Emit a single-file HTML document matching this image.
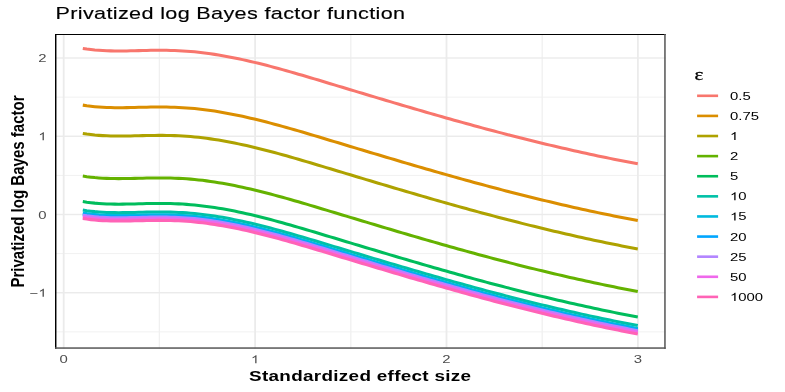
<!DOCTYPE html>
<html><head><meta charset="utf-8"><title>Privatized log Bayes factor function</title>
<style>html,body{margin:0;padding:0;background:#fff;}body{width:785px;height:392px;overflow:hidden;font-family:"Liberation Sans",sans-serif;}</style>
</head><body>
<svg width="785" height="392" viewBox="0 0 785 392" style="display:block">
<rect x="0" y="0" width="785" height="392" fill="#fff"/>
<rect x="55.0" y="96.67" width="610.7" height="0.9" fill="#F0F0F0"/>
<rect x="55.0" y="174.93" width="610.7" height="0.9" fill="#F0F0F0"/>
<rect x="55.0" y="253.18" width="610.7" height="0.9" fill="#F0F0F0"/>
<rect x="55.0" y="331.43" width="610.7" height="0.9" fill="#F0F0F0"/>
<rect x="158.75" y="34.0" width="1.3" height="314.9" fill="#F0F0F0"/>
<rect x="350.15" y="34.0" width="1.3" height="314.9" fill="#F0F0F0"/>
<rect x="541.55" y="34.0" width="1.3" height="314.9" fill="#F0F0F0"/>
<rect x="55.0" y="57.30" width="610.7" height="1.4" fill="#EBEBEB"/>
<rect x="55.0" y="135.55" width="610.7" height="1.4" fill="#EBEBEB"/>
<rect x="55.0" y="213.80" width="610.7" height="1.4" fill="#EBEBEB"/>
<rect x="55.0" y="292.05" width="610.7" height="1.4" fill="#EBEBEB"/>
<rect x="62.80" y="34.0" width="1.8" height="314.9" fill="#EBEBEB"/>
<rect x="254.20" y="34.0" width="1.8" height="314.9" fill="#EBEBEB"/>
<rect x="445.60" y="34.0" width="1.8" height="314.9" fill="#EBEBEB"/>
<rect x="637.00" y="34.0" width="1.8" height="314.9" fill="#EBEBEB"/>
<path d="M82.80,48.39 L86.79,48.99 L90.79,49.50 L94.78,49.93 L98.77,50.27 L102.76,50.54 L106.76,50.73 L110.75,50.87 L114.74,50.94 L118.74,50.97 L122.73,50.95 L126.72,50.90 L130.71,50.82 L134.71,50.72 L138.70,50.62 L142.69,50.51 L146.68,50.42 L150.68,50.35 L154.67,50.30 L158.66,50.28 L162.66,50.29 L166.65,50.34 L170.64,50.42 L174.63,50.54 L178.63,50.71 L182.62,50.92 L186.61,51.18 L190.61,51.48 L194.60,51.84 L198.59,52.25 L202.58,52.71 L206.58,53.22 L210.57,53.77 L214.56,54.37 L218.56,55.00 L222.55,55.68 L226.54,56.40 L230.53,57.15 L234.53,57.94 L238.52,58.77 L242.51,59.62 L246.51,60.51 L250.50,61.42 L254.49,62.37 L258.48,63.33 L262.48,64.33 L266.47,65.35 L270.46,66.38 L274.45,67.45 L278.45,68.52 L282.44,69.62 L286.43,70.74 L290.43,71.87 L294.42,73.01 L298.41,74.17 L302.40,75.33 L306.40,76.51 L310.39,77.69 L314.38,78.88 L318.38,80.08 L322.37,81.28 L326.36,82.49 L330.35,83.69 L334.35,84.90 L338.34,86.10 L342.33,87.30 L346.33,88.51 L350.32,89.71 L354.31,90.91 L358.30,92.11 L362.30,93.31 L366.29,94.51 L370.28,95.71 L374.27,96.90 L378.27,98.10 L382.26,99.29 L386.25,100.48 L390.25,101.66 L394.24,102.85 L398.23,104.03 L402.22,105.21 L406.22,106.38 L410.21,107.55 L414.20,108.72 L418.20,109.88 L422.19,111.04 L426.18,112.20 L430.17,113.35 L434.17,114.50 L438.16,115.64 L442.15,116.78 L446.15,117.91 L450.14,119.04 L454.13,120.16 L458.12,121.27 L462.12,122.39 L466.11,123.49 L470.10,124.59 L474.09,125.68 L478.09,126.77 L482.08,127.85 L486.07,128.92 L490.07,129.99 L494.06,131.05 L498.05,132.10 L502.04,133.14 L506.04,134.18 L510.03,135.21 L514.02,136.24 L518.02,137.25 L522.01,138.26 L526.00,139.26 L529.99,140.26 L533.99,141.24 L537.98,142.22 L541.97,143.19 L545.97,144.15 L549.96,145.11 L553.95,146.05 L557.94,146.99 L561.94,147.92 L565.93,148.84 L569.92,149.75 L573.92,150.65 L577.91,151.55 L581.90,152.43 L585.89,153.31 L589.89,154.18 L593.88,155.04 L597.87,155.89 L601.86,156.73 L605.86,157.56 L609.85,158.38 L613.84,159.19 L617.84,159.99 L621.83,160.78 L625.82,161.57 L629.81,162.34 L633.81,163.10 L637.80,163.85" fill="none" stroke="#F8766D" stroke-width="3.05" stroke-linejoin="round"/>
<path d="M82.80,105.12 L86.79,105.73 L90.79,106.24 L94.78,106.66 L98.77,107.00 L102.76,107.27 L106.76,107.47 L110.75,107.60 L114.74,107.68 L118.74,107.70 L122.73,107.68 L126.72,107.63 L130.71,107.55 L134.71,107.45 L138.70,107.35 L142.69,107.25 L146.68,107.15 L150.68,107.08 L154.67,107.03 L158.66,107.01 L162.66,107.02 L166.65,107.07 L170.64,107.15 L174.63,107.28 L178.63,107.44 L182.62,107.65 L186.61,107.91 L190.61,108.22 L194.60,108.58 L198.59,108.99 L202.58,109.45 L206.58,109.95 L210.57,110.50 L214.56,111.10 L218.56,111.74 L222.55,112.42 L226.54,113.13 L230.53,113.89 L234.53,114.68 L238.52,115.50 L242.51,116.36 L246.51,117.24 L250.50,118.16 L254.49,119.10 L258.48,120.07 L262.48,121.06 L266.47,122.08 L270.46,123.12 L274.45,124.18 L278.45,125.26 L282.44,126.36 L286.43,127.47 L290.43,128.60 L294.42,129.74 L298.41,130.90 L302.40,132.07 L306.40,133.24 L310.39,134.43 L314.38,135.62 L318.38,136.81 L322.37,138.02 L326.36,139.22 L330.35,140.42 L334.35,141.63 L338.34,142.83 L342.33,144.04 L346.33,145.24 L350.32,146.44 L354.31,147.65 L358.30,148.85 L362.30,150.05 L366.29,151.25 L370.28,152.44 L374.27,153.64 L378.27,154.83 L382.26,156.02 L386.25,157.21 L390.25,158.40 L394.24,159.58 L398.23,160.76 L402.22,161.94 L406.22,163.11 L410.21,164.28 L414.20,165.45 L418.20,166.62 L422.19,167.77 L426.18,168.93 L430.17,170.08 L434.17,171.23 L438.16,172.37 L442.15,173.51 L446.15,174.64 L450.14,175.77 L454.13,176.89 L458.12,178.01 L462.12,179.12 L466.11,180.22 L470.10,181.32 L474.09,182.42 L478.09,183.50 L482.08,184.58 L486.07,185.65 L490.07,186.72 L494.06,187.78 L498.05,188.83 L502.04,189.88 L506.04,190.92 L510.03,191.95 L514.02,192.97 L518.02,193.99 L522.01,195.00 L526.00,196.00 L529.99,196.99 L533.99,197.98 L537.98,198.95 L541.97,199.92 L545.97,200.89 L549.96,201.84 L553.95,202.79 L557.94,203.72 L561.94,204.65 L565.93,205.57 L569.92,206.48 L573.92,207.39 L577.91,208.28 L581.90,209.17 L585.89,210.04 L589.89,210.91 L593.88,211.77 L597.87,212.62 L601.86,213.46 L605.86,214.29 L609.85,215.11 L613.84,215.92 L617.84,216.72 L621.83,217.52 L625.82,218.30 L629.81,219.07 L633.81,219.83 L637.80,220.59" fill="none" stroke="#DB8E00" stroke-width="3.05" stroke-linejoin="round"/>
<path d="M82.80,133.49 L86.79,134.09 L90.79,134.60 L94.78,135.03 L98.77,135.37 L102.76,135.64 L106.76,135.83 L110.75,135.97 L114.74,136.04 L118.74,136.07 L122.73,136.05 L126.72,136.00 L130.71,135.92 L134.71,135.82 L138.70,135.72 L142.69,135.61 L146.68,135.52 L150.68,135.45 L154.67,135.40 L158.66,135.38 L162.66,135.39 L166.65,135.44 L170.64,135.52 L174.63,135.64 L178.63,135.81 L182.62,136.02 L186.61,136.28 L190.61,136.58 L194.60,136.94 L198.59,137.35 L202.58,137.81 L206.58,138.32 L210.57,138.87 L214.56,139.47 L218.56,140.10 L222.55,140.78 L226.54,141.50 L230.53,142.25 L234.53,143.04 L238.52,143.87 L242.51,144.72 L246.51,145.61 L250.50,146.52 L254.49,147.47 L258.48,148.43 L262.48,149.43 L266.47,150.45 L270.46,151.48 L274.45,152.55 L278.45,153.62 L282.44,154.72 L286.43,155.84 L290.43,156.97 L294.42,158.11 L298.41,159.27 L302.40,160.43 L306.40,161.61 L310.39,162.79 L314.38,163.98 L318.38,165.18 L322.37,166.38 L326.36,167.59 L330.35,168.79 L334.35,170.00 L338.34,171.20 L342.33,172.40 L346.33,173.61 L350.32,174.81 L354.31,176.01 L358.30,177.21 L362.30,178.41 L366.29,179.61 L370.28,180.81 L374.27,182.00 L378.27,183.20 L382.26,184.39 L386.25,185.58 L390.25,186.76 L394.24,187.95 L398.23,189.13 L402.22,190.31 L406.22,191.48 L410.21,192.65 L414.20,193.82 L418.20,194.98 L422.19,196.14 L426.18,197.30 L430.17,198.45 L434.17,199.60 L438.16,200.74 L442.15,201.88 L446.15,203.01 L450.14,204.14 L454.13,205.26 L458.12,206.37 L462.12,207.49 L466.11,208.59 L470.10,209.69 L474.09,210.78 L478.09,211.87 L482.08,212.95 L486.07,214.02 L490.07,215.09 L494.06,216.15 L498.05,217.20 L502.04,218.24 L506.04,219.28 L510.03,220.31 L514.02,221.34 L518.02,222.35 L522.01,223.36 L526.00,224.36 L529.99,225.36 L533.99,226.34 L537.98,227.32 L541.97,228.29 L545.97,229.25 L549.96,230.21 L553.95,231.15 L557.94,232.09 L561.94,233.02 L565.93,233.94 L569.92,234.85 L573.92,235.75 L577.91,236.65 L581.90,237.53 L585.89,238.41 L589.89,239.28 L593.88,240.14 L597.87,240.99 L601.86,241.83 L605.86,242.66 L609.85,243.48 L613.84,244.29 L617.84,245.09 L621.83,245.88 L625.82,246.67 L629.81,247.44 L633.81,248.20 L637.80,248.95" fill="none" stroke="#AEA200" stroke-width="3.05" stroke-linejoin="round"/>
<path d="M82.80,176.04 L86.79,176.64 L90.79,177.15 L94.78,177.58 L98.77,177.92 L102.76,178.19 L106.76,178.38 L110.75,178.52 L114.74,178.59 L118.74,178.62 L122.73,178.60 L126.72,178.55 L130.71,178.47 L134.71,178.37 L138.70,178.27 L142.69,178.16 L146.68,178.07 L150.68,178.00 L154.67,177.95 L158.66,177.93 L162.66,177.94 L166.65,177.99 L170.64,178.07 L174.63,178.19 L178.63,178.36 L182.62,178.57 L186.61,178.83 L190.61,179.13 L194.60,179.49 L198.59,179.90 L202.58,180.36 L206.58,180.87 L210.57,181.42 L214.56,182.02 L218.56,182.65 L222.55,183.33 L226.54,184.05 L230.53,184.80 L234.53,185.59 L238.52,186.42 L242.51,187.27 L246.51,188.16 L250.50,189.07 L254.49,190.02 L258.48,190.98 L262.48,191.98 L266.47,193.00 L270.46,194.03 L274.45,195.10 L278.45,196.17 L282.44,197.27 L286.43,198.39 L290.43,199.52 L294.42,200.66 L298.41,201.82 L302.40,202.98 L306.40,204.16 L310.39,205.34 L314.38,206.53 L318.38,207.73 L322.37,208.93 L326.36,210.14 L330.35,211.34 L334.35,212.55 L338.34,213.75 L342.33,214.95 L346.33,216.16 L350.32,217.36 L354.31,218.56 L358.30,219.76 L362.30,220.96 L366.29,222.16 L370.28,223.36 L374.27,224.55 L378.27,225.75 L382.26,226.94 L386.25,228.13 L390.25,229.31 L394.24,230.50 L398.23,231.68 L402.22,232.86 L406.22,234.03 L410.21,235.20 L414.20,236.37 L418.20,237.53 L422.19,238.69 L426.18,239.85 L430.17,241.00 L434.17,242.15 L438.16,243.29 L442.15,244.43 L446.15,245.56 L450.14,246.69 L454.13,247.81 L458.12,248.92 L462.12,250.04 L466.11,251.14 L470.10,252.24 L474.09,253.33 L478.09,254.42 L482.08,255.50 L486.07,256.57 L490.07,257.64 L494.06,258.70 L498.05,259.75 L502.04,260.79 L506.04,261.83 L510.03,262.86 L514.02,263.89 L518.02,264.90 L522.01,265.91 L526.00,266.91 L529.99,267.91 L533.99,268.89 L537.98,269.87 L541.97,270.84 L545.97,271.80 L549.96,272.76 L553.95,273.70 L557.94,274.64 L561.94,275.57 L565.93,276.49 L569.92,277.40 L573.92,278.30 L577.91,279.20 L581.90,280.08 L585.89,280.96 L589.89,281.83 L593.88,282.69 L597.87,283.54 L601.86,284.38 L605.86,285.21 L609.85,286.03 L613.84,286.84 L617.84,287.64 L621.83,288.43 L625.82,289.22 L629.81,289.99 L633.81,290.75 L637.80,291.50" fill="none" stroke="#64B200" stroke-width="3.05" stroke-linejoin="round"/>
<path d="M82.80,201.57 L86.79,202.17 L90.79,202.68 L94.78,203.11 L98.77,203.45 L102.76,203.72 L106.76,203.91 L110.75,204.05 L114.74,204.12 L118.74,204.15 L122.73,204.13 L126.72,204.08 L130.71,204.00 L134.71,203.90 L138.70,203.80 L142.69,203.69 L146.68,203.60 L150.68,203.53 L154.67,203.48 L158.66,203.46 L162.66,203.47 L166.65,203.52 L170.64,203.60 L174.63,203.72 L178.63,203.89 L182.62,204.10 L186.61,204.36 L190.61,204.66 L194.60,205.02 L198.59,205.43 L202.58,205.89 L206.58,206.40 L210.57,206.95 L214.56,207.55 L218.56,208.18 L222.55,208.86 L226.54,209.58 L230.53,210.33 L234.53,211.12 L238.52,211.95 L242.51,212.80 L246.51,213.69 L250.50,214.60 L254.49,215.55 L258.48,216.51 L262.48,217.51 L266.47,218.53 L270.46,219.56 L274.45,220.63 L278.45,221.70 L282.44,222.80 L286.43,223.92 L290.43,225.05 L294.42,226.19 L298.41,227.35 L302.40,228.51 L306.40,229.69 L310.39,230.87 L314.38,232.06 L318.38,233.26 L322.37,234.46 L326.36,235.67 L330.35,236.87 L334.35,238.08 L338.34,239.28 L342.33,240.48 L346.33,241.69 L350.32,242.89 L354.31,244.09 L358.30,245.29 L362.30,246.49 L366.29,247.69 L370.28,248.89 L374.27,250.08 L378.27,251.28 L382.26,252.47 L386.25,253.66 L390.25,254.84 L394.24,256.03 L398.23,257.21 L402.22,258.39 L406.22,259.56 L410.21,260.73 L414.20,261.90 L418.20,263.06 L422.19,264.22 L426.18,265.38 L430.17,266.53 L434.17,267.68 L438.16,268.82 L442.15,269.96 L446.15,271.09 L450.14,272.22 L454.13,273.34 L458.12,274.45 L462.12,275.57 L466.11,276.67 L470.10,277.77 L474.09,278.86 L478.09,279.95 L482.08,281.03 L486.07,282.10 L490.07,283.17 L494.06,284.23 L498.05,285.28 L502.04,286.32 L506.04,287.36 L510.03,288.39 L514.02,289.42 L518.02,290.43 L522.01,291.44 L526.00,292.44 L529.99,293.44 L533.99,294.42 L537.98,295.40 L541.97,296.37 L545.97,297.33 L549.96,298.29 L553.95,299.23 L557.94,300.17 L561.94,301.10 L565.93,302.02 L569.92,302.93 L573.92,303.83 L577.91,304.73 L581.90,305.61 L585.89,306.49 L589.89,307.36 L593.88,308.22 L597.87,309.07 L601.86,309.91 L605.86,310.74 L609.85,311.56 L613.84,312.37 L617.84,313.17 L621.83,313.96 L625.82,314.75 L629.81,315.52 L633.81,316.28 L637.80,317.03" fill="none" stroke="#00BD5C" stroke-width="3.05" stroke-linejoin="round"/>
<path d="M82.80,210.08 L86.79,210.68 L90.79,211.19 L94.78,211.62 L98.77,211.96 L102.76,212.23 L106.76,212.42 L110.75,212.56 L114.74,212.63 L118.74,212.66 L122.73,212.64 L126.72,212.59 L130.71,212.51 L134.71,212.41 L138.70,212.31 L142.69,212.20 L146.68,212.11 L150.68,212.04 L154.67,211.99 L158.66,211.97 L162.66,211.98 L166.65,212.03 L170.64,212.11 L174.63,212.23 L178.63,212.40 L182.62,212.61 L186.61,212.87 L190.61,213.17 L194.60,213.53 L198.59,213.94 L202.58,214.40 L206.58,214.91 L210.57,215.46 L214.56,216.06 L218.56,216.69 L222.55,217.37 L226.54,218.09 L230.53,218.84 L234.53,219.63 L238.52,220.46 L242.51,221.31 L246.51,222.20 L250.50,223.11 L254.49,224.06 L258.48,225.02 L262.48,226.02 L266.47,227.04 L270.46,228.07 L274.45,229.14 L278.45,230.21 L282.44,231.31 L286.43,232.43 L290.43,233.56 L294.42,234.70 L298.41,235.86 L302.40,237.02 L306.40,238.20 L310.39,239.38 L314.38,240.57 L318.38,241.77 L322.37,242.97 L326.36,244.18 L330.35,245.38 L334.35,246.59 L338.34,247.79 L342.33,248.99 L346.33,250.20 L350.32,251.40 L354.31,252.60 L358.30,253.80 L362.30,255.00 L366.29,256.20 L370.28,257.40 L374.27,258.59 L378.27,259.79 L382.26,260.98 L386.25,262.17 L390.25,263.35 L394.24,264.54 L398.23,265.72 L402.22,266.90 L406.22,268.07 L410.21,269.24 L414.20,270.41 L418.20,271.57 L422.19,272.73 L426.18,273.89 L430.17,275.04 L434.17,276.19 L438.16,277.33 L442.15,278.47 L446.15,279.60 L450.14,280.73 L454.13,281.85 L458.12,282.96 L462.12,284.08 L466.11,285.18 L470.10,286.28 L474.09,287.37 L478.09,288.46 L482.08,289.54 L486.07,290.61 L490.07,291.68 L494.06,292.74 L498.05,293.79 L502.04,294.83 L506.04,295.87 L510.03,296.90 L514.02,297.93 L518.02,298.94 L522.01,299.95 L526.00,300.95 L529.99,301.95 L533.99,302.93 L537.98,303.91 L541.97,304.88 L545.97,305.84 L549.96,306.80 L553.95,307.74 L557.94,308.68 L561.94,309.61 L565.93,310.53 L569.92,311.44 L573.92,312.34 L577.91,313.24 L581.90,314.12 L585.89,315.00 L589.89,315.87 L593.88,316.73 L597.87,317.58 L601.86,318.42 L605.86,319.25 L609.85,320.07 L613.84,320.88 L617.84,321.68 L621.83,322.47 L625.82,323.26 L629.81,324.03 L633.81,324.79 L637.80,325.54" fill="none" stroke="#00C1A7" stroke-width="3.05" stroke-linejoin="round"/>
<path d="M82.80,212.92 L86.79,213.52 L90.79,214.03 L94.78,214.45 L98.77,214.80 L102.76,215.06 L106.76,215.26 L110.75,215.39 L114.74,215.47 L118.74,215.49 L122.73,215.48 L126.72,215.42 L130.71,215.34 L134.71,215.25 L138.70,215.14 L142.69,215.04 L146.68,214.95 L150.68,214.87 L154.67,214.82 L158.66,214.80 L162.66,214.82 L166.65,214.86 L170.64,214.95 L174.63,215.07 L178.63,215.23 L182.62,215.44 L186.61,215.70 L190.61,216.01 L194.60,216.37 L198.59,216.78 L202.58,217.24 L206.58,217.75 L210.57,218.30 L214.56,218.89 L218.56,219.53 L222.55,220.21 L226.54,220.93 L230.53,221.68 L234.53,222.47 L238.52,223.29 L242.51,224.15 L246.51,225.03 L250.50,225.95 L254.49,226.89 L258.48,227.86 L262.48,228.85 L266.47,229.87 L270.46,230.91 L274.45,231.97 L278.45,233.05 L282.44,234.15 L286.43,235.26 L290.43,236.39 L294.42,237.54 L298.41,238.69 L302.40,239.86 L306.40,241.03 L310.39,242.22 L314.38,243.41 L318.38,244.61 L322.37,245.81 L326.36,247.01 L330.35,248.22 L334.35,249.42 L338.34,250.63 L342.33,251.83 L346.33,253.03 L350.32,254.24 L354.31,255.44 L358.30,256.64 L362.30,257.84 L366.29,259.04 L370.28,260.24 L374.27,261.43 L378.27,262.62 L382.26,263.82 L386.25,265.00 L390.25,266.19 L394.24,267.37 L398.23,268.55 L402.22,269.73 L406.22,270.91 L410.21,272.08 L414.20,273.24 L418.20,274.41 L422.19,275.57 L426.18,276.72 L430.17,277.88 L434.17,279.02 L438.16,280.16 L442.15,281.30 L446.15,282.43 L450.14,283.56 L454.13,284.68 L458.12,285.80 L462.12,286.91 L466.11,288.02 L470.10,289.12 L474.09,290.21 L478.09,291.29 L482.08,292.37 L486.07,293.45 L490.07,294.51 L494.06,295.57 L498.05,296.63 L502.04,297.67 L506.04,298.71 L510.03,299.74 L514.02,300.76 L518.02,301.78 L522.01,302.79 L526.00,303.79 L529.99,304.78 L533.99,305.77 L537.98,306.75 L541.97,307.72 L545.97,308.68 L549.96,309.63 L553.95,310.58 L557.94,311.52 L561.94,312.44 L565.93,313.37 L569.92,314.28 L573.92,315.18 L577.91,316.07 L581.90,316.96 L585.89,317.84 L589.89,318.70 L593.88,319.56 L597.87,320.41 L601.86,321.25 L605.86,322.08 L609.85,322.90 L613.84,323.72 L617.84,324.52 L621.83,325.31 L625.82,326.09 L629.81,326.86 L633.81,327.63 L637.80,328.38" fill="none" stroke="#00BADE" stroke-width="3.05" stroke-linejoin="round"/>
<path d="M82.80,214.33 L86.79,214.94 L90.79,215.45 L94.78,215.87 L98.77,216.21 L102.76,216.48 L106.76,216.68 L110.75,216.81 L114.74,216.89 L118.74,216.91 L122.73,216.89 L126.72,216.84 L130.71,216.76 L134.71,216.67 L138.70,216.56 L142.69,216.46 L146.68,216.37 L150.68,216.29 L154.67,216.24 L158.66,216.22 L162.66,216.23 L166.65,216.28 L170.64,216.36 L174.63,216.49 L178.63,216.65 L182.62,216.86 L186.61,217.12 L190.61,217.43 L194.60,217.79 L198.59,218.20 L202.58,218.66 L206.58,219.16 L210.57,219.72 L214.56,220.31 L218.56,220.95 L222.55,221.63 L226.54,222.35 L230.53,223.10 L234.53,223.89 L238.52,224.71 L242.51,225.57 L246.51,226.45 L250.50,227.37 L254.49,228.31 L258.48,229.28 L262.48,230.27 L266.47,231.29 L270.46,232.33 L274.45,233.39 L278.45,234.47 L282.44,235.57 L286.43,236.68 L290.43,237.81 L294.42,238.95 L298.41,240.11 L302.40,241.28 L306.40,242.45 L310.39,243.64 L314.38,244.83 L318.38,246.03 L322.37,247.23 L326.36,248.43 L330.35,249.64 L334.35,250.84 L338.34,252.05 L342.33,253.25 L346.33,254.45 L350.32,255.66 L354.31,256.86 L358.30,258.06 L362.30,259.26 L366.29,260.46 L370.28,261.65 L374.27,262.85 L378.27,264.04 L382.26,265.23 L386.25,266.42 L390.25,267.61 L394.24,268.79 L398.23,269.97 L402.22,271.15 L406.22,272.32 L410.21,273.50 L414.20,274.66 L418.20,275.83 L422.19,276.99 L426.18,278.14 L430.17,279.29 L434.17,280.44 L438.16,281.58 L442.15,282.72 L446.15,283.85 L450.14,284.98 L454.13,286.10 L458.12,287.22 L462.12,288.33 L466.11,289.44 L470.10,290.53 L474.09,291.63 L478.09,292.71 L482.08,293.79 L486.07,294.87 L490.07,295.93 L494.06,296.99 L498.05,298.04 L502.04,299.09 L506.04,300.13 L510.03,301.16 L514.02,302.18 L518.02,303.20 L522.01,304.21 L526.00,305.21 L529.99,306.20 L533.99,307.19 L537.98,308.17 L541.97,309.14 L545.97,310.10 L549.96,311.05 L553.95,312.00 L557.94,312.93 L561.94,313.86 L565.93,314.78 L569.92,315.70 L573.92,316.60 L577.91,317.49 L581.90,318.38 L585.89,319.25 L589.89,320.12 L593.88,320.98 L597.87,321.83 L601.86,322.67 L605.86,323.50 L609.85,324.32 L613.84,325.13 L617.84,325.94 L621.83,326.73 L625.82,327.51 L629.81,328.28 L633.81,329.05 L637.80,329.80" fill="none" stroke="#00A6FF" stroke-width="3.05" stroke-linejoin="round"/>
<path d="M82.80,215.19 L86.79,215.79 L90.79,216.30 L94.78,216.72 L98.77,217.07 L102.76,217.33 L106.76,217.53 L110.75,217.66 L114.74,217.74 L118.74,217.76 L122.73,217.75 L126.72,217.69 L130.71,217.61 L134.71,217.52 L138.70,217.41 L142.69,217.31 L146.68,217.22 L150.68,217.14 L154.67,217.09 L158.66,217.07 L162.66,217.09 L166.65,217.13 L170.64,217.22 L174.63,217.34 L178.63,217.50 L182.62,217.71 L186.61,217.97 L190.61,218.28 L194.60,218.64 L198.59,219.05 L202.58,219.51 L206.58,220.02 L210.57,220.57 L214.56,221.16 L218.56,221.80 L222.55,222.48 L226.54,223.20 L230.53,223.95 L234.53,224.74 L238.52,225.56 L242.51,226.42 L246.51,227.30 L250.50,228.22 L254.49,229.16 L258.48,230.13 L262.48,231.12 L266.47,232.14 L270.46,233.18 L274.45,234.24 L278.45,235.32 L282.44,236.42 L286.43,237.53 L290.43,238.66 L294.42,239.81 L298.41,240.96 L302.40,242.13 L306.40,243.30 L310.39,244.49 L314.38,245.68 L318.38,246.88 L322.37,248.08 L326.36,249.28 L330.35,250.49 L334.35,251.69 L338.34,252.90 L342.33,254.10 L346.33,255.30 L350.32,256.51 L354.31,257.71 L358.30,258.91 L362.30,260.11 L366.29,261.31 L370.28,262.51 L374.27,263.70 L378.27,264.89 L382.26,266.09 L386.25,267.27 L390.25,268.46 L394.24,269.64 L398.23,270.82 L402.22,272.00 L406.22,273.18 L410.21,274.35 L414.20,275.51 L418.20,276.68 L422.19,277.84 L426.18,278.99 L430.17,280.14 L434.17,281.29 L438.16,282.43 L442.15,283.57 L446.15,284.70 L450.14,285.83 L454.13,286.95 L458.12,288.07 L462.12,289.18 L466.11,290.29 L470.10,291.39 L474.09,292.48 L478.09,293.56 L482.08,294.64 L486.07,295.72 L490.07,296.78 L494.06,297.84 L498.05,298.90 L502.04,299.94 L506.04,300.98 L510.03,302.01 L514.02,303.03 L518.02,304.05 L522.01,305.06 L526.00,306.06 L529.99,307.05 L533.99,308.04 L537.98,309.02 L541.97,309.99 L545.97,310.95 L549.96,311.90 L553.95,312.85 L557.94,313.79 L561.94,314.71 L565.93,315.63 L569.92,316.55 L573.92,317.45 L577.91,318.34 L581.90,319.23 L585.89,320.11 L589.89,320.97 L593.88,321.83 L597.87,322.68 L601.86,323.52 L605.86,324.35 L609.85,325.17 L613.84,325.98 L617.84,326.79 L621.83,327.58 L625.82,328.36 L629.81,329.13 L633.81,329.90 L637.80,330.65" fill="none" stroke="#B385FF" stroke-width="3.05" stroke-linejoin="round"/>
<path d="M82.80,216.89 L86.79,217.49 L90.79,218.00 L94.78,218.42 L98.77,218.77 L102.76,219.03 L106.76,219.23 L110.75,219.37 L114.74,219.44 L118.74,219.47 L122.73,219.45 L126.72,219.39 L130.71,219.31 L134.71,219.22 L138.70,219.11 L142.69,219.01 L146.68,218.92 L150.68,218.84 L154.67,218.80 L158.66,218.78 L162.66,218.79 L166.65,218.83 L170.64,218.92 L174.63,219.04 L178.63,219.21 L182.62,219.42 L186.61,219.67 L190.61,219.98 L194.60,220.34 L198.59,220.75 L202.58,221.21 L206.58,221.72 L210.57,222.27 L214.56,222.87 L218.56,223.50 L222.55,224.18 L226.54,224.90 L230.53,225.65 L234.53,226.44 L238.52,227.26 L242.51,228.12 L246.51,229.01 L250.50,229.92 L254.49,230.86 L258.48,231.83 L262.48,232.83 L266.47,233.84 L270.46,234.88 L274.45,235.94 L278.45,237.02 L282.44,238.12 L286.43,239.23 L290.43,240.36 L294.42,241.51 L298.41,242.66 L302.40,243.83 L306.40,245.01 L310.39,246.19 L314.38,247.38 L318.38,248.58 L322.37,249.78 L326.36,250.98 L330.35,252.19 L334.35,253.39 L338.34,254.60 L342.33,255.80 L346.33,257.01 L350.32,258.21 L354.31,259.41 L358.30,260.61 L362.30,261.81 L366.29,263.01 L370.28,264.21 L374.27,265.40 L378.27,266.60 L382.26,267.79 L386.25,268.98 L390.25,270.16 L394.24,271.35 L398.23,272.53 L402.22,273.70 L406.22,274.88 L410.21,276.05 L414.20,277.22 L418.20,278.38 L422.19,279.54 L426.18,280.70 L430.17,281.85 L434.17,282.99 L438.16,284.14 L442.15,285.27 L446.15,286.41 L450.14,287.53 L454.13,288.66 L458.12,289.77 L462.12,290.88 L466.11,291.99 L470.10,293.09 L474.09,294.18 L478.09,295.27 L482.08,296.35 L486.07,297.42 L490.07,298.49 L494.06,299.54 L498.05,300.60 L502.04,301.64 L506.04,302.68 L510.03,303.71 L514.02,304.74 L518.02,305.75 L522.01,306.76 L526.00,307.76 L529.99,308.76 L533.99,309.74 L537.98,310.72 L541.97,311.69 L545.97,312.65 L549.96,313.60 L553.95,314.55 L557.94,315.49 L561.94,316.42 L565.93,317.34 L569.92,318.25 L573.92,319.15 L577.91,320.05 L581.90,320.93 L585.89,321.81 L589.89,322.68 L593.88,323.53 L597.87,324.38 L601.86,325.22 L605.86,326.05 L609.85,326.88 L613.84,327.69 L617.84,328.49 L621.83,329.28 L625.82,330.06 L629.81,330.84 L633.81,331.60 L637.80,332.35" fill="none" stroke="#EF67EB" stroke-width="3.05" stroke-linejoin="round"/>
<path d="M82.80,218.50 L86.79,219.11 L90.79,219.62 L94.78,220.04 L98.77,220.38 L102.76,220.65 L106.76,220.85 L110.75,220.98 L114.74,221.06 L118.74,221.08 L122.73,221.06 L126.72,221.01 L130.71,220.93 L134.71,220.84 L138.70,220.73 L142.69,220.63 L146.68,220.54 L150.68,220.46 L154.67,220.41 L158.66,220.39 L162.66,220.40 L166.65,220.45 L170.64,220.53 L174.63,220.66 L178.63,220.82 L182.62,221.03 L186.61,221.29 L190.61,221.60 L194.60,221.96 L198.59,222.37 L202.58,222.83 L206.58,223.33 L210.57,223.89 L214.56,224.48 L218.56,225.12 L222.55,225.80 L226.54,226.52 L230.53,227.27 L234.53,228.06 L238.52,228.88 L242.51,229.74 L246.51,230.62 L250.50,231.54 L254.49,232.48 L258.48,233.45 L262.48,234.44 L266.47,235.46 L270.46,236.50 L274.45,237.56 L278.45,238.64 L282.44,239.74 L286.43,240.85 L290.43,241.98 L294.42,243.12 L298.41,244.28 L302.40,245.45 L306.40,246.62 L310.39,247.81 L314.38,249.00 L318.38,250.20 L322.37,251.40 L326.36,252.60 L330.35,253.81 L334.35,255.01 L338.34,256.21 L342.33,257.42 L346.33,258.62 L350.32,259.83 L354.31,261.03 L358.30,262.23 L362.30,263.43 L366.29,264.63 L370.28,265.82 L374.27,267.02 L378.27,268.21 L382.26,269.40 L386.25,270.59 L390.25,271.78 L394.24,272.96 L398.23,274.14 L402.22,275.32 L406.22,276.49 L410.21,277.67 L414.20,278.83 L418.20,280.00 L422.19,281.16 L426.18,282.31 L430.17,283.46 L434.17,284.61 L438.16,285.75 L442.15,286.89 L446.15,288.02 L450.14,289.15 L454.13,290.27 L458.12,291.39 L462.12,292.50 L466.11,293.61 L470.10,294.70 L474.09,295.80 L478.09,296.88 L482.08,297.96 L486.07,299.04 L490.07,300.10 L494.06,301.16 L498.05,302.21 L502.04,303.26 L506.04,304.30 L510.03,305.33 L514.02,306.35 L518.02,307.37 L522.01,308.38 L526.00,309.38 L529.99,310.37 L533.99,311.36 L537.98,312.34 L541.97,313.31 L545.97,314.27 L549.96,315.22 L553.95,316.17 L557.94,317.10 L561.94,318.03 L565.93,318.95 L569.92,319.87 L573.92,320.77 L577.91,321.66 L581.90,322.55 L585.89,323.42 L589.89,324.29 L593.88,325.15 L597.87,326.00 L601.86,326.84 L605.86,327.67 L609.85,328.49 L613.84,329.30 L617.84,330.11 L621.83,330.90 L625.82,331.68 L629.81,332.45 L633.81,333.22 L637.80,333.97" fill="none" stroke="#FF63B6" stroke-width="3.05" stroke-linejoin="round"/>
<rect x="55.0" y="34.0" width="1.45" height="314.90" fill="#000"/>
<rect x="55.0" y="34.0" width="610.70" height="1.0" fill="#000"/>
<rect x="664.2" y="34.0" width="1.5" height="314.90" fill="#555"/>
<rect x="55.0" y="347.3" width="610.70" height="1.5" fill="#585858"/>
<defs><filter id="tb" x="-5%" y="-5%" width="110%" height="110%"><feGaussianBlur stdDeviation="0.5"/></filter></defs>
<g filter="url(#tb)">
<text transform="translate(55.5,18.9) scale(1.27,1)" font-family="Liberation Sans, sans-serif" font-size="17.0" font-weight="normal" text-anchor="start" fill="#000" letter-spacing="0.28" stroke="#000" stroke-width="0.15">Privatized log Bayes factor function</text>
<text transform="translate(38.32,62.00) scale(1.33,1)" font-family="Liberation Sans, sans-serif" font-size="11.2" font-weight="normal" text-anchor="start" fill="#4D4D4D">2</text>
<path transform="translate(38.32,140.25) scale(0.007273,-0.005469)" d="M763 0H583V1147Q518 1085 412.5 1023T223 930V1104Q374 1175 487 1276T647 1472H763Z" fill="#4D4D4D"/>
<text transform="translate(38.32,218.50) scale(1.33,1)" font-family="Liberation Sans, sans-serif" font-size="11.2" font-weight="normal" text-anchor="start" fill="#4D4D4D">0</text>
<text transform="translate(29.62,296.75) scale(1.33,1)" font-family="Liberation Sans, sans-serif" font-size="11.2" font-weight="normal" text-anchor="start" fill="#4D4D4D">−</text><path transform="translate(38.32,296.75) scale(0.007273,-0.005469)" d="M763 0H583V1147Q518 1085 412.5 1023T223 930V1104Q374 1175 487 1276T647 1472H763Z" fill="#4D4D4D"/>
<text transform="translate(59.56,363.30) scale(1.33,1)" font-family="Liberation Sans, sans-serif" font-size="11.2" font-weight="normal" text-anchor="start" fill="#4D4D4D">0</text>
<path transform="translate(250.96,363.30) scale(0.007273,-0.005469)" d="M763 0H583V1147Q518 1085 412.5 1023T223 930V1104Q374 1175 487 1276T647 1472H763Z" fill="#4D4D4D"/>
<text transform="translate(442.36,363.30) scale(1.33,1)" font-family="Liberation Sans, sans-serif" font-size="11.2" font-weight="normal" text-anchor="start" fill="#4D4D4D">2</text>
<text transform="translate(633.76,363.30) scale(1.33,1)" font-family="Liberation Sans, sans-serif" font-size="11.2" font-weight="normal" text-anchor="start" fill="#4D4D4D">3</text>
<text transform="translate(360.2,381.3) scale(1.35,1)" font-family="Liberation Sans, sans-serif" font-size="14.0" font-weight="bold" text-anchor="middle" fill="#000" letter-spacing="0.22">Standardized effect size</text>
<text transform="translate(23.6,191.5) scale(1.25,1) rotate(-90)" font-family="Liberation Sans, sans-serif" font-size="15.05" font-weight="bold" text-anchor="middle" fill="#000">Privatized log Bayes factor</text>
<text transform="translate(694.6,80.0) scale(1.27,1)" font-family="Liberation Serif, serif" font-size="16.5" fill="#000" stroke="#000" stroke-width="0.3">ε</text>
<rect x="697.1" y="94.50" width="21.0" height="2.6" fill="#F8766D"/>
<text transform="translate(730.00,99.80) scale(1.33,1)" font-family="Liberation Sans, sans-serif" font-size="11.2" font-weight="normal" text-anchor="start" fill="#000">0.5</text>
<rect x="697.1" y="114.61" width="21.0" height="2.6" fill="#DB8E00"/>
<text transform="translate(730.00,119.91) scale(1.33,1)" font-family="Liberation Sans, sans-serif" font-size="11.2" font-weight="normal" text-anchor="start" fill="#000">0.75</text>
<rect x="697.1" y="134.72" width="21.0" height="2.6" fill="#AEA200"/>
<path transform="translate(730.00,140.02) scale(0.007273,-0.005469)" d="M763 0H583V1147Q518 1085 412.5 1023T223 930V1104Q374 1175 487 1276T647 1472H763Z" fill="#000"/>
<rect x="697.1" y="154.83" width="21.0" height="2.6" fill="#64B200"/>
<text transform="translate(730.00,160.13) scale(1.33,1)" font-family="Liberation Sans, sans-serif" font-size="11.2" font-weight="normal" text-anchor="start" fill="#000">2</text>
<rect x="697.1" y="174.94" width="21.0" height="2.6" fill="#00BD5C"/>
<text transform="translate(730.00,180.24) scale(1.33,1)" font-family="Liberation Sans, sans-serif" font-size="11.2" font-weight="normal" text-anchor="start" fill="#000">5</text>
<rect x="697.1" y="195.05" width="21.0" height="2.6" fill="#00C1A7"/>
<path transform="translate(730.00,200.35) scale(0.007273,-0.005469)" d="M763 0H583V1147Q518 1085 412.5 1023T223 930V1104Q374 1175 487 1276T647 1472H763Z" fill="#000"/><text transform="translate(738.28,200.35) scale(1.33,1)" font-family="Liberation Sans, sans-serif" font-size="11.2" font-weight="normal" text-anchor="start" fill="#000">0</text>
<rect x="697.1" y="215.16" width="21.0" height="2.6" fill="#00BADE"/>
<path transform="translate(730.00,220.46) scale(0.007273,-0.005469)" d="M763 0H583V1147Q518 1085 412.5 1023T223 930V1104Q374 1175 487 1276T647 1472H763Z" fill="#000"/><text transform="translate(738.28,220.46) scale(1.33,1)" font-family="Liberation Sans, sans-serif" font-size="11.2" font-weight="normal" text-anchor="start" fill="#000">5</text>
<rect x="697.1" y="235.27" width="21.0" height="2.6" fill="#00A6FF"/>
<text transform="translate(730.00,240.57) scale(1.33,1)" font-family="Liberation Sans, sans-serif" font-size="11.2" font-weight="normal" text-anchor="start" fill="#000">20</text>
<rect x="697.1" y="255.38" width="21.0" height="2.6" fill="#B385FF"/>
<text transform="translate(730.00,260.68) scale(1.33,1)" font-family="Liberation Sans, sans-serif" font-size="11.2" font-weight="normal" text-anchor="start" fill="#000">25</text>
<rect x="697.1" y="275.49" width="21.0" height="2.6" fill="#EF67EB"/>
<text transform="translate(730.00,280.79) scale(1.33,1)" font-family="Liberation Sans, sans-serif" font-size="11.2" font-weight="normal" text-anchor="start" fill="#000">50</text>
<rect x="697.1" y="295.60" width="21.0" height="2.6" fill="#FF63B6"/>
<path transform="translate(730.00,300.90) scale(0.007273,-0.005469)" d="M763 0H583V1147Q518 1085 412.5 1023T223 930V1104Q374 1175 487 1276T647 1472H763Z" fill="#000"/><text transform="translate(738.28,300.90) scale(1.33,1)" font-family="Liberation Sans, sans-serif" font-size="11.2" font-weight="normal" text-anchor="start" fill="#000">000</text>
</g>
</svg>
</body></html>
